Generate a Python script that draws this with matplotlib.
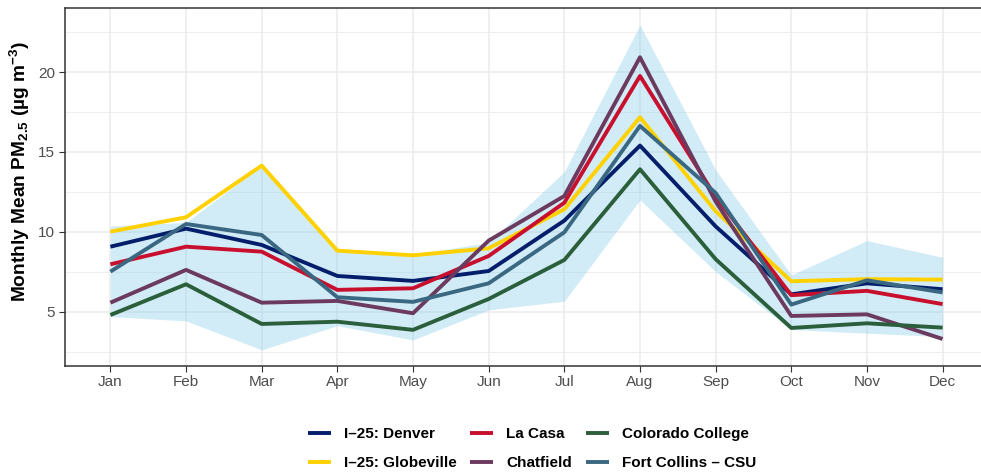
import matplotlib
matplotlib.use("Agg")
import matplotlib.pyplot as plt
from matplotlib.lines import Line2D

plt.rcParams['font.family'] = ['Liberation Sans', 'DejaVu Sans']
plt.rcParams['mathtext.fontset'] = 'custom'
plt.rcParams['mathtext.rm'] = 'Liberation Sans:bold'
plt.rcParams['mathtext.bf'] = 'Liberation Sans:bold'
plt.rcParams['mathtext.it'] = 'Liberation Sans:bold'

months = ["Jan", "Feb", "Mar", "Apr", "May", "Jun",
          "Jul", "Aug", "Sep", "Oct", "Nov", "Dec"]

denver = [9.08, 10.21, 9.19, 7.25, 6.94, 7.56, 10.71, 15.40, 10.35, 6.10, 6.79, 6.42]
globeville = [10.02, 10.92, 14.15, 8.83, 8.54, 8.98, 11.42, 17.17, 11.30, 6.92, 7.05, 7.02]
la_casa = [7.98, 9.08, 8.77, 6.38, 6.48, 8.50, 11.83, 19.75, 12.20, 6.05, 6.32, 5.49]
chatfield = [5.58, 7.63, 5.58, 5.69, 4.92, 9.46, 12.25, 20.92, 11.90, 4.75, 4.85, 3.31]
colorado_college = [4.81, 6.73, 4.25, 4.39, 3.88, 5.81, 8.25, 13.92, 8.30, 4.00, 4.29, 4.02]
fort_collins = [7.52, 10.50, 9.81, 5.92, 5.63, 6.79, 9.98, 16.63, 12.44, 5.46, 6.98, 6.22]

ribbon_high = [10.38, 10.60, 14.15, 8.88, 8.58, 9.35, 13.77, 22.94, 13.88, 7.31, 9.46, 8.42]
ribbon_low = [4.71, 4.44, 2.63, 4.14, 3.25, 5.13, 5.67, 12.00, 7.52, 3.90, 3.67, 3.46]

series = [
    ("I\u201325: Denver", denver, "#041E6B"),
    ("I\u201325: Globeville", globeville, "#FFD100"),
    ("La Casa", la_casa, "#C8102E"),
    ("Chatfield", chatfield, "#6B3A5E"),
    ("Colorado College", colorado_college, "#2B5E3B"),
    ("Fort Collins \u2013 CSU", fort_collins, "#3A6882"),
]

W, H = 981, 474
fig = plt.figure(figsize=(W / 100, H / 100), dpi=100)
left, right, top, bottom = 65, 988, 7.7, 365.7
ax = fig.add_axes([left / W, 1 - bottom / H, (right - left) / W, (bottom - top) / H])

x = list(range(len(months)))
ax.fill_between(x, ribbon_low, ribbon_high, color="#87CEEB", alpha=0.37, lw=0, zorder=2)
for name, vals, col in series:
    ax.plot(x, vals, color=col, lw=2.8, solid_capstyle="butt", zorder=3)

ax.set_xlim(-0.6, 11.6)
ax.set_ylim(1.64, 24.02)
ax.set_xticks(x)
ax.set_xticklabels(months)
ax.set_yticks([5, 10, 15, 20])
ax.set_yticks([2.5, 7.5, 12.5, 17.5, 22.5], minor=True)
ax.grid(True, which="major", color="#EBEBEB", lw=1.1, zorder=0)
ax.grid(True, which="minor", axis="y", color="#EBEBEB", lw=0.6, zorder=0)
ax.set_axisbelow(True)
ax.tick_params(which="major", length=4, width=0.8, color="#333333",
               labelcolor="#4D4D4D", labelsize=11, pad=3)
ax.tick_params(which="minor", length=0)
for s in ax.spines.values():
    s.set_color("#333333")
    s.set_linewidth(1.1)

fig.text(20 / W, 1 - 172 / H,
         "Monthly Mean PM$_{\\mathbf{2.5}}$ (\u00b5g m$^{\\mathbf{-3}}$)",
         rotation=90, ha="center", va="center", fontsize=13.75, fontweight="bold")

handles = [Line2D([], [], color=c, lw=2.8, solid_capstyle="butt") for _, _, c in series]
labels = [n for n, _, _ in series]
fig.legend(handles, labels, loc="center", bbox_to_anchor=(532 / W, 1 - 448.5 / H),
           ncol=3, frameon=False, prop={"weight": "bold", "size": 11},
           handlelength=1.5, handletextpad=0.85, columnspacing=0.9, labelspacing=0.97,
           borderpad=0, borderaxespad=0)

fig.savefig("out.png", dpi=100)
